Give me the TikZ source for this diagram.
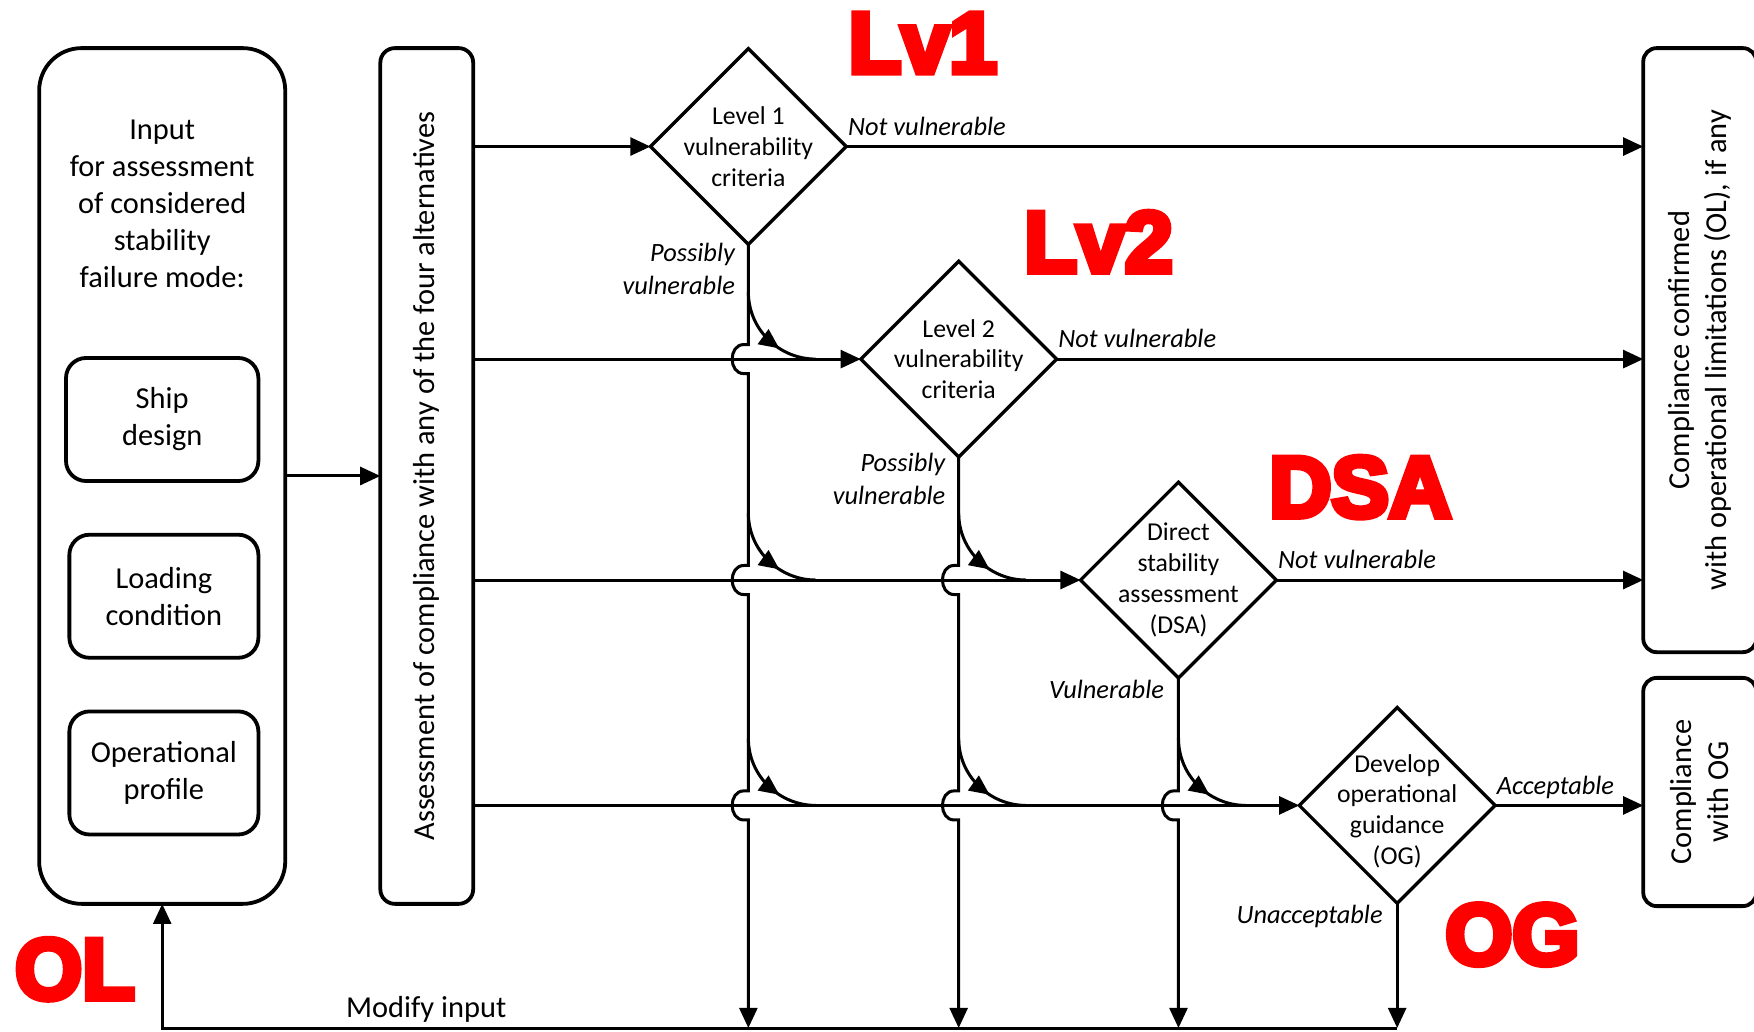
\documentclass[tikz,border=0pt]{standalone}
\usepackage{fontspec}
\setmainfont{Carlito}
\newfontfamily\tagfont[FakeBold=7]{Liberation Sans}
\usetikzlibrary{shapes.geometric,arrows.meta,calc}

\begin{document}
\begin{tikzpicture}[x=0.5pt,y=-0.5pt,
  every node/.style={inner sep=0pt, outer sep=0pt},
  bigtext/.style={font=\fontsize{13.6pt}{16.5pt}\selectfont, align=center},
  lab/.style={font=\fontsize{11.8pt}{14.5pt}\selectfont\itshape},
  dtext/.style={font=\fontsize{11.5pt}{13.75pt}\selectfont, align=center},
  panel/.style={draw, line width=1.7pt, rounded corners=#1},
  decision/.style={draw, diamond, aspect=1, line width=1.5pt,
    minimum width=87.5pt, minimum height=87.5pt},
  flow/.style={line width=1.35pt},
  arr/.style={flow, -{Triangle[length=9pt,width=8pt]}},
  redtag/.style={text=red, font=\tagfont\bfseries\fontsize{38.5pt}{40pt}\selectfont, anchor=base},
  hopover/.style={to path={-- ($(\tikztotarget)+(0,-13)$) -- ++(-4,0)
      .. controls +(-14,0) and +(-14,0) .. ++(0,26) -- ++(4,0)}},
]
\useasboundingbox (0,0) rectangle (1568,922);

% input block
\node[panel=19pt, minimum width=110pt, minimum height=382.5pt] (inbox) at (145,425.5) {};
\node[bigtext] (intext) at (145,182) {Input\\for assessment\\of considered\\stability\\failure mode:};
\node[panel=9pt, bigtext, minimum width=86pt, minimum height=55pt] (ship) at (145,375) {Ship\\design};
\node[panel=9pt, bigtext, minimum width=84.5pt, minimum height=55pt] (load) at (146.5,533) {Loading\\condition};
\node[panel=9pt, bigtext, minimum width=84.5pt, minimum height=55pt] (oper) at (146.5,691) {Operational\\profile};

% assessment column
\node[panel=6.5pt, minimum width=41.5pt, minimum height=382.5pt] (asm) at (381.5,425.5) {};
\node[bigtext, rotate=90] (asmt) at (asm.center) {Assessment of compliance with any of the four alternatives};

% outcome boxes
\node[panel=6pt, minimum width=50.5pt, minimum height=270pt] (comp1) at (1519.5,313) {};
\node[bigtext, rotate=90] (comp1t) at (comp1.center) {Compliance confirmed\\with operational limitations (OL), if any};
\node[panel=6pt, minimum width=50.5pt, minimum height=102pt] (comp2) at (1519.5,708) {};
\node[bigtext, rotate=90] (comp2t) at (comp2.center) {Compliance\\with OG};

% decisions
\node[decision] (lv1) at (669,131) {};
\node[dtext] (lv1t) at (lv1.center) {Level 1\\vulnerability\\criteria};
\node[decision] (lv2) at (857,321) {};
\node[dtext] (lv2t) at (lv2.center) {Level 2\\vulnerability\\criteria};
\node[decision] (dsa) at (1053.5,518.5) {};
\node[dtext] (dsat) at (dsa.center) {Direct\\stability\\assessment\\(DSA)};
\node[decision] (og) at (1249,720) {};
\node[dtext] (ogt) at ($(og.center)+(0,5)$) {Develop\\operational\\guidance\\(OG)};

% input to assessment
\draw[arr] (inbox.east) -- (asm.west);

% rows into decisions
\draw[arr] (asm.east |- lv1.west) -- (lv1.west);
\draw[arr] (asm.east |- lv2.west) -- (lv2.west);
\draw[arr] (asm.east |- dsa.west) -- (dsa.west);
\draw[arr] (asm.east |- og.west) -- (og.west);

% outcomes
\draw[arr] (lv1.east) -- (comp1.west |- lv1.east);
\draw[arr] (lv2.east) -- (comp1.west |- lv2.east);
\draw[arr] (dsa.east) -- (comp1.west |- dsa.east);
\draw[arr] (og.east) -- (comp2.west |- og.east);

% crossings of the downward branches with the rows
\coordinate (c12) at (lv1.south |- lv2.west);
\coordinate (c13) at (lv1.south |- dsa.west);
\coordinate (c14) at (lv1.south |- og.west);
\coordinate (c23) at (lv2.south |- dsa.west);
\coordinate (c24) at (lv2.south |- og.west);
\coordinate (c34) at (dsa.south |- og.west);
\coordinate (fbr) at (1249,919);
\coordinate (fbl) at (inbox.south |- fbr);

% downward branches
\draw[arr] (lv1.south) to[hopover] (c12) to[hopover] (c13) to[hopover] (c14) -- (lv1.south |- fbr);
\draw[arr] (lv2.south) to[hopover] (c23) to[hopover] (c24) -- (lv2.south |- fbr);
\draw[arr] (dsa.south) to[hopover] (c34) -- (dsa.south |- fbr);
\draw[arr] (og.south) -- (fbr);

% branches merging into the rows, each with an arrowhead along the bend
\foreach \c in {c12,c13,c14,c23,c24,c34} {
  \draw[flow] ($(\c)+(0,-60)$) .. controls +(0,34) and +(-32,0) .. ($(\c)+(60,0)$)
    coordinate[pos=0.56] (\c b) coordinate[pos=0.635] (\c t);
  \draw[arr] (\c b) -- (\c t);
}

% feedback loop
\draw[arr] (fbr) -- (fbl) -- (inbox.south);
\node[bigtext, anchor=base] (modify) at (381,910) {Modify input};

% branch labels
\node[lab, anchor=base west, xshift=0.8pt, yshift=5pt] (nv1) at (lv1.east) {Not vulnerable};
\node[lab, anchor=base west, xshift=0.8pt, yshift=5pt] (nv2) at (lv2.east) {Not vulnerable};
\node[lab, anchor=base west, xshift=0.8pt, yshift=5pt] (nv3) at (dsa.east) {Not vulnerable};
\node[lab, anchor=base west, xshift=0.8pt, yshift=5pt] (acc) at (og.east) {Acceptable};
\node[lab, align=right, anchor=north east, xshift=-6pt, yshift=0.5pt] (pv1) at (lv1.south) {Possibly\\vulnerable};
\node[lab, align=right, anchor=north east, xshift=-6pt, yshift=1.5pt] (pv2) at (lv2.south) {Possibly\\vulnerable};
\node[lab, anchor=north east, xshift=-6.5pt, yshift=-1pt] (vul) at (dsa.south) {Vulnerable};
\node[lab, anchor=north east, xshift=-6.5pt, yshift=-1pt] (unacc) at (og.south) {Unacceptable};

% level tags
\node[redtag] (tlv1) at (825,65) {Lv1};
\node[redtag] (tlv2) at (982,243) {Lv2};
\node[redtag] (tdsa) at (1216,462) {DSA};
\node[redtag] (tog) at (1352,862) {OG};
\node[redtag] (tol) at (67,893) {OL};
\end{tikzpicture}
\end{document}
